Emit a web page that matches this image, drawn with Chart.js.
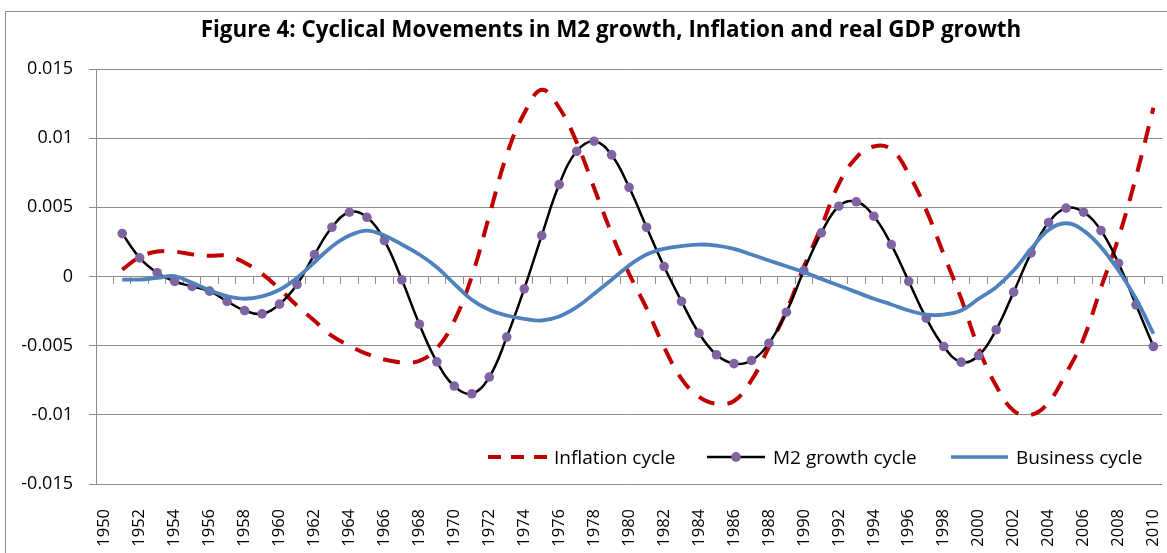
<!DOCTYPE html>
<html>
<head>
<meta charset="utf-8">
<script src="https://cdn.jsdelivr.net/npm/chart.js@4.4.1/dist/chart.umd.min.js"></script>
<style>
  html, body { margin: 0; padding: 0; background: #fff; overflow: hidden; }
  #wrap { position: relative; width: 1167px; height: 553px; overflow: hidden; background: #fff; }
  #frame { position: absolute; left: 5px; top: 11px; width: 1300px; height: 700px; border: 1px solid #8c8c8c; }
  #c { position: absolute; left: 0; top: 0; }
  #title { position: absolute; left: 0; top: 14px; width: 1222px; text-align: center;
           font: bold 22.4px 'Open Sans', sans-serif; color: #000; white-space: nowrap; line-height: 30px; }
  .lg { position: absolute; font: 19px 'Open Sans', sans-serif; color: #000; white-space: nowrap; line-height: 22px; }
  .sw { position: absolute; }
</style>
</head>
<body>
<div id="wrap">
  <div id="frame"></div>
  <canvas id="c" width="1167" height="553"></canvas>
  <div id="title"></div>
  <div id="legend"></div>
</div>
<script>
// ---- data ----
const chartTitle = "Figure 4: Cyclical Movements in M2 growth, Inflation and real GDP growth";
const seriesNames = ["Inflation cycle", "M2 growth cycle", "Business cycle"];
const years = ["1950","1951","1952","1953","1954","1955","1956","1957","1958","1959",
  "1960","1961","1962","1963","1964","1965","1966","1967","1968","1969",
  "1970","1971","1972","1973","1974","1975","1976","1977","1978","1979",
  "1980","1981","1982","1983","1984","1985","1986","1987","1988","1989",
  "1990","1991","1992","1993","1994","1995","1996","1997","1998","1999",
  "2000","2001","2002","2003","2004","2005","2006","2007","2008","2009","2010"];
const yTicks = [-0.015, -0.01, -0.005, 0, 0.005, 0.01, 0.015];

const inflation = [null,
  0.0005, 0.0014, 0.0018, 0.0018, 0.0016, 0.0015, 0.0015, 0.0010, 0.0002,
  -0.0009, -0.0021, -0.0032, -0.0043, -0.0050, -0.0056, -0.0060, -0.0062, -0.0061, -0.0052,
  -0.0032, 0.0000, 0.0044, 0.0088, 0.0118, 0.0135, 0.0122, 0.0097, 0.0064, 0.0031,
  0.0002, -0.0023, -0.0051, -0.0074, -0.0087, -0.0092, -0.0090, -0.0075, -0.0051, -0.0025,
  0.0007, 0.0036, 0.0067, 0.0086, 0.0094, 0.0092, 0.0074, 0.0048, 0.0016, -0.0016,
  -0.0052, -0.0079, -0.0097, -0.0100, -0.0091, -0.0070, -0.0045, -0.0008, 0.0028, 0.0072, 0.0122];

const m2Growth = [null,
  0.0031, 0.00135, 0.00027, -0.00036, -0.00072, -0.00106, -0.0018, -0.00246, -0.0027,
  -0.0020, -0.00058, 0.00159, 0.00356, 0.00465, 0.00428, 0.0026, -0.00024, -0.00345, -0.00617,
  -0.00792, -0.00848, -0.00727, -0.00438, -0.00089, 0.00296, 0.00665, 0.00905, 0.00978, 0.00879,
  0.00645, 0.00356, 0.00072, -0.0018, -0.0041, -0.00566, -0.0063, -0.00607, -0.00482, -0.00258,
  0.00043, 0.00316, 0.00508, 0.0054, 0.00436, 0.00231, -0.00036, -0.00301, -0.00506, -0.00619,
  -0.00571, -0.00385, -0.00113, 0.00171, 0.0039, 0.00494, 0.00465, 0.00332, 0.00096, -0.00205, -0.00506];

const business = [null,
  -0.00022, -0.00022, -0.0001, 0.00002, -0.00046, -0.0010, -0.00142, -0.00161, -0.00144,
  -0.00096, -0.0001, 0.00103, 0.00217, 0.00296, 0.00332, 0.00296, 0.00231, 0.00159, 0.00067,
  -0.00053, -0.00168, -0.00241, -0.00282, -0.00306, -0.00318, -0.00289, -0.00222, -0.00125, -0.00024,
  0.0008, 0.00159, 0.0020, 0.00219, 0.00231, 0.00224, 0.0020, 0.00159, 0.00116, 0.00074,
  0.00031, -0.00017, -0.00065, -0.00113, -0.00161, -0.00202, -0.00246, -0.00275, -0.00275, -0.00246,
  -0.00161, -0.00077, 0.00043, 0.0020, 0.00337, 0.00385, 0.00332, 0.00212, 0.00043, -0.00161, -0.00414];

const colors = { inflation: "#C00000", m2Line: "#000000", m2Point: "#8064A2", business: "#4F81BD", grid: "#8c8c8c" };

// ---- title & legend (HTML text) ----
document.getElementById('title').textContent = chartTitle;
const legendDiv = document.getElementById('legend');
const legendItems = [
  { name: seriesNames[0], sx: 488, sw: 60, tx: 554, kind: 'dash' },
  { name: seriesNames[1], sx: 707, sw: 58, tx: 773, kind: 'marker' },
  { name: seriesNames[2], sx: 951, sw: 57, tx: 1016, kind: 'line' }
];
const legendY = 457;
legendItems.forEach(it => {
  const svgNS = "http://www.w3.org/2000/svg";
  const svg = document.createElementNS(svgNS, 'svg');
  svg.setAttribute('class', 'sw');
  svg.setAttribute('width', it.sw); svg.setAttribute('height', 14);
  svg.style.left = it.sx + 'px'; svg.style.top = (legendY - 7) + 'px';
  const ln = document.createElementNS(svgNS, 'line');
  ln.setAttribute('x1', 0); ln.setAttribute('x2', it.sw); ln.setAttribute('y1', 7); ln.setAttribute('y2', 7);
  if (it.kind === 'dash') {
    ln.setAttribute('stroke', colors.inflation); ln.setAttribute('stroke-width', 4);
    ln.setAttribute('stroke-dasharray', '13 10');
  } else if (it.kind === 'marker') {
    ln.setAttribute('stroke', colors.m2Line); ln.setAttribute('stroke-width', 2.5);
  } else {
    ln.setAttribute('stroke', colors.business); ln.setAttribute('stroke-width', 3.5);
  }
  svg.appendChild(ln);
  if (it.kind === 'marker') {
    const c = document.createElementNS(svgNS, 'ellipse');
    c.setAttribute('cx', it.sw / 2); c.setAttribute('cy', 7); c.setAttribute('rx', 4.8); c.setAttribute('ry', 5);
    c.setAttribute('fill', colors.m2Point);
    svg.appendChild(c);
  }
  legendDiv.appendChild(svg);
  const t = document.createElement('div');
  t.className = 'lg';
  t.textContent = it.name;
  t.style.left = it.tx + 'px'; t.style.top = (legendY - 11.5) + 'px';
  legendDiv.appendChild(t);
});

// ---- chart ----
Chart.defaults.font.family = "'Open Sans', sans-serif";
Chart.defaults.color = '#000';

const noSidePad = s => { s.paddingLeft = 0; s.paddingRight = 0; };

new Chart(document.getElementById('c').getContext('2d'), {
  type: 'line',
  data: {
    labels: years,
    datasets: [
      { label: seriesNames[0], data: inflation, borderColor: colors.inflation, borderWidth: 4,
        borderDash: [17, 13], pointRadius: 0, tension: 0.4, fill: false, order: 3 },
      { label: seriesNames[1], data: m2Growth, borderColor: colors.m2Line, borderWidth: 2.5,
        pointRadius: 4.8, pointBackgroundColor: colors.m2Point, pointBorderColor: colors.m2Point,
        pointBorderWidth: 0, tension: 0.4, fill: false, order: 2 },
      { label: seriesNames[2], data: business, borderColor: colors.business, borderWidth: 3.8,
        pointRadius: 0, tension: 0.4, fill: false, order: 1 }
    ]
  },
  options: {
    responsive: false,
    animation: false,
    devicePixelRatio: 1,
    layout: { padding: { left: 6, right: 2, top: 69, bottom: 0 } },
    plugins: { legend: { display: false }, title: { display: false }, tooltip: { enabled: false } },
    scales: {
      x: {
        type: 'category', offset: true,
        grid: { display: false, drawTicks: false },
        border: { display: false },
        ticks: {
          autoSkip: false, maxRotation: 90, minRotation: 90, padding: 25,
          font: { size: 16.5 }, color: '#000',
          callback: (v, i) => (i % 2 === 0 ? years[i] : '')
        },
        afterFit: s => { s.height = 69; noSidePad(s); }
      },
      x2: {
        type: 'category', labels: years, position: { y: 0 }, offset: true,
        grid: { drawOnChartArea: false, drawTicks: true, tickLength: 7, color: colors.grid, offset: true },
        border: { display: true, color: colors.grid },
        ticks: { display: false },
        afterFit: s => { noSidePad(s); }
      },
      y: {
        min: yTicks[0], max: yTicks[yTicks.length - 1],
        afterBuildTicks: s => { s.ticks = yTicks.map(v => ({ value: v })); },
        ticks: { padding: 16, font: { size: 18 }, color: '#000',
                 callback: v => String(Number(Number(v).toFixed(3))) },
        grid: { color: colors.grid, tickLength: 7 },
        border: { color: colors.grid },
        afterFit: s => { s.width = 90; }
      }
    }
  }
});
</script>
</body>
</html>
